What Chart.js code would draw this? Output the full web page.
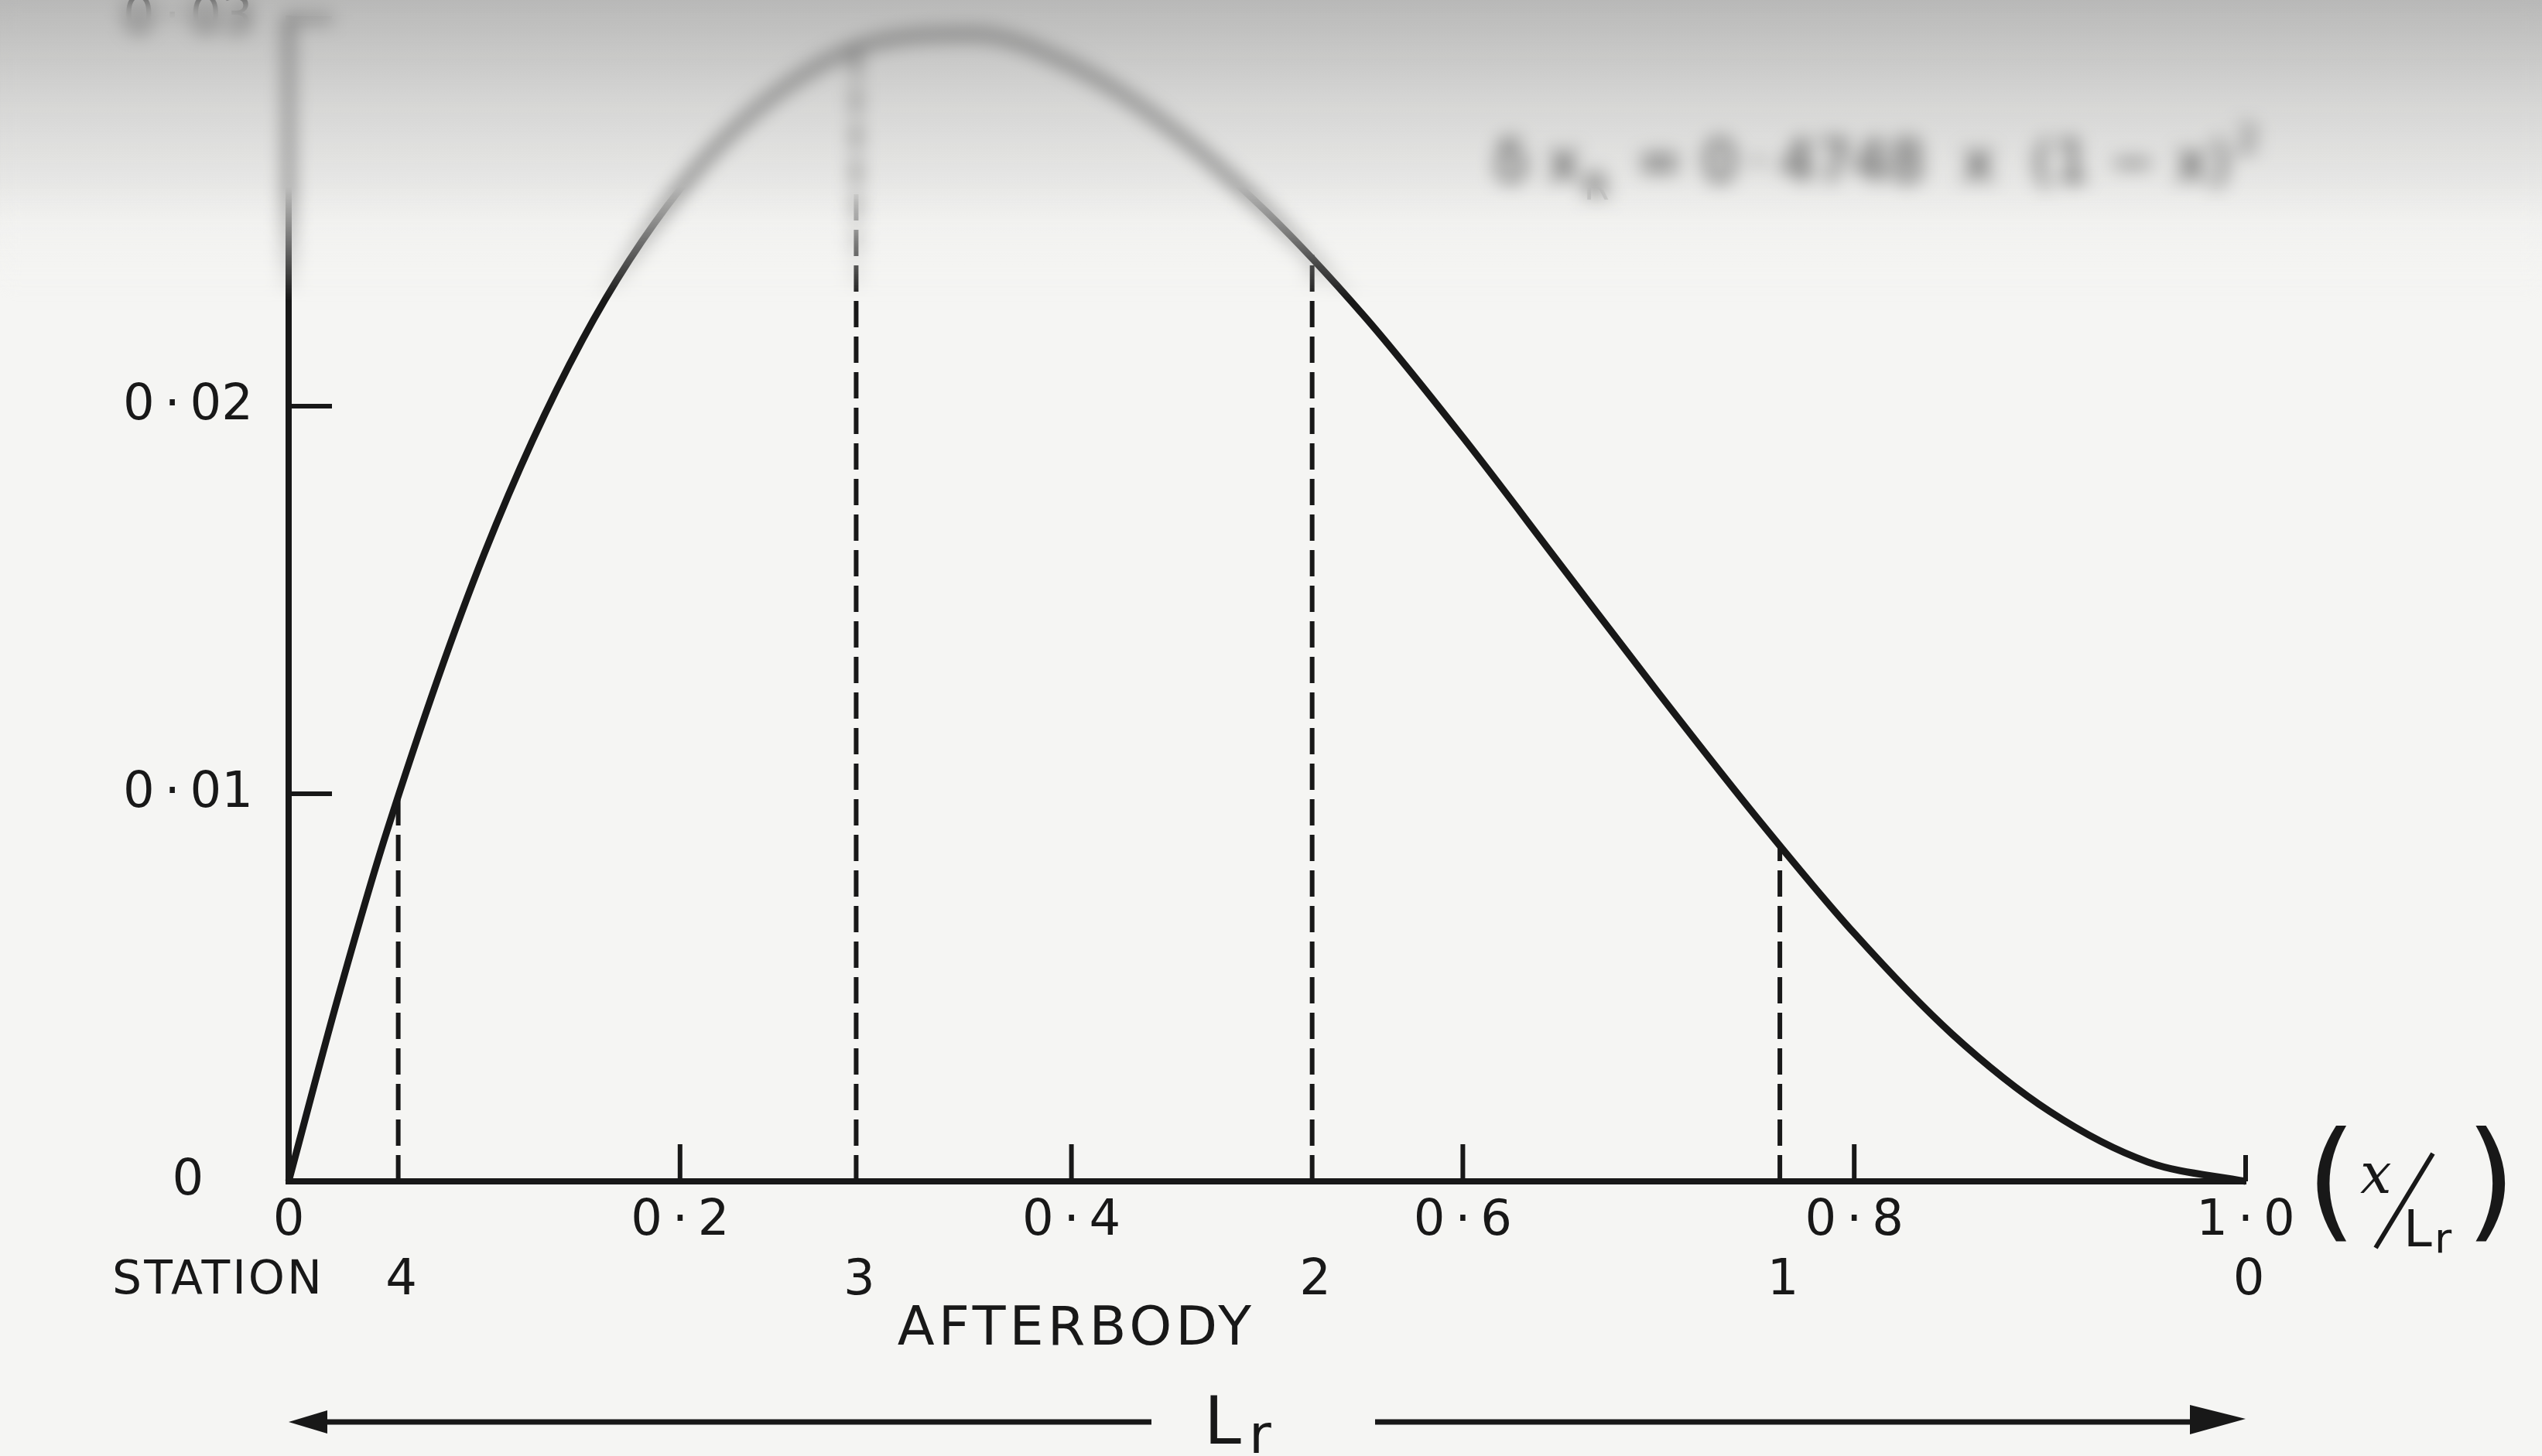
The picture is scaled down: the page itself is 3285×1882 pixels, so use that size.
<!DOCTYPE html>
<html>
<head>
<meta charset="utf-8">
<script src="https://cdn.jsdelivr.net/npm/chart.js@4.4.1/dist/chart.umd.min.js"></script>
<style>
  html, body { margin: 0; padding: 0; background: #f5f5f3; }
  #wrap { position: relative; width: 3285px; height: 1882px; }
  #haze {
    position: absolute; left: 0; top: 0; width: 3285px; height: 390px;
    pointer-events: none;
    backdrop-filter: blur(12px);
    background: linear-gradient(to bottom, rgba(135,135,135,0.55) 0%, rgba(165,165,165,0.38) 35%, rgba(215,215,215,0.15) 75%, rgba(255,255,255,0) 100%);
    -webkit-mask-image: linear-gradient(to bottom, #000 0%, #000 62%, transparent 100%);
    mask-image: linear-gradient(to bottom, #000 0%, #000 62%, transparent 100%);
  }
</style>
</head>
<body>
<div id="wrap">
  <canvas id="chart" width="3285" height="1882"></canvas>
  <div id="haze"></div>
</div>
<script>
// afterbody thickness distribution along x/Lr
const xValues = [0, 0.025, 0.05, 0.1, 0.15, 0.2, 0.25, 0.3, 0.35, 0.4, 0.45, 0.5,
                 0.55, 0.6, 0.65, 0.7, 0.75, 0.8, 0.85, 0.9, 0.95, 1.0];
const yValues = [0, 0.0047, 0.0090, 0.0162, 0.0217, 0.0256, 0.0281, 0.0294, 0.0296, 0.0288, 0.0272, 0.0250,
                 0.0223, 0.0192, 0.0159, 0.0126, 0.0094, 0.0064, 0.0038, 0.0018, 0.0005, 0];

// stations along the afterbody (dashed ordinates)
const stationLabels = ['4', '3', '2', '1', '0'];
const stationX = [0.056, 0.290, 0.523, 0.762, 1.0];
const stationTop = [0.0100, 0.0293, 0.0239, 0.0086, 0];

const xTicks = [0, 0.2, 0.4, 0.6, 0.8, 1.0];
const yTicks = [0, 0.01, 0.02, 0.03];

const INK = '#181818';
const FONT = "'DejaVu Sans', sans-serif";
const THIN = '\u2009';

function fmt(v, digits) {
  if (v === 0) return '0';
  return v.toFixed(digits).replace('.', THIN + '·' + THIN);
}

const curve = {
  data: xValues.map((x, i) => ({ x: x, y: yValues[i] })),
  borderColor: INK,
  borderWidth: 9,
  pointRadius: 0,
  cubicInterpolationMode: 'monotone',
  clip: false
};

const ordinates = stationX
  .map((x, i) => ({ x: x, top: stationTop[i] }))
  .filter(s => s.top > 0)
  .map(s => ({
    data: [{ x: s.x, y: 0 }, { x: s.x, y: s.top }],
    borderColor: INK,
    borderWidth: 6,
    borderDash: [34, 12],
    pointRadius: 0,
    clip: false
  }));

const extras = {
  id: 'extras',
  afterDraw(chart) {
    const ctx = chart.ctx;
    const xs = chart.scales.x;
    const ys = chart.scales.y;
    const area = chart.chartArea;
    ctx.save();
    ctx.strokeStyle = INK;
    ctx.fillStyle = INK;
    ctx.lineCap = 'butt';

    // inward tick marks
    ctx.lineWidth = 6;
    xTicks.forEach(v => {
      if (v === 0) return;
      const px = xs.getPixelForValue(v);
      ctx.beginPath();
      ctx.moveTo(px, area.bottom);
      ctx.lineTo(px, area.bottom - (v === 1 ? 34 : 48));
      ctx.stroke();
    });
    yTicks.forEach(v => {
      if (v === 0) return;
      const py = ys.getPixelForValue(v);
      ctx.beginPath();
      ctx.moveTo(area.left, py);
      ctx.lineTo(area.left + 56, py);
      ctx.stroke();
    });

    // station row
    ctx.textBaseline = 'middle';
    ctx.textAlign = 'center';
    ctx.font = '60px ' + FONT;
    ctx.letterSpacing = '3px';
    ctx.fillText('STATION', 282, 1656);
    ctx.font = '64px ' + FONT;
    ctx.letterSpacing = '0px';
    stationX.forEach((x, i) => {
      ctx.fillText(stationLabels[i], xs.getPixelForValue(x) + 4, 1656);
    });

    ctx.font = '70px ' + FONT;
    ctx.letterSpacing = '5px';
    ctx.fillText('AFTERBODY', 1391, 1720);
    ctx.letterSpacing = '0px';

    // overall length arrow
    const ax0 = xs.getPixelForValue(0);
    const ax1 = xs.getPixelForValue(1);
    const ay = 1838;
    ctx.lineWidth = 7;
    ctx.beginPath();
    ctx.moveTo(ax0 + 40, ay);
    ctx.lineTo(1488, ay);
    ctx.moveTo(1777, ay);
    ctx.lineTo(ax1 - 60, ay);
    ctx.stroke();
    ctx.beginPath();
    ctx.moveTo(ax0, ay);
    ctx.lineTo(ax0 + 50, ay - 15);
    ctx.lineTo(ax0 + 50, ay + 15);
    ctx.closePath();
    ctx.fill();
    ctx.beginPath();
    ctx.moveTo(ax1, ay - 4);
    ctx.lineTo(ax1 - 72, ay - 22);
    ctx.lineTo(ax1 - 72, ay + 16);
    ctx.closePath();
    ctx.fill();
    ctx.textAlign = 'left';
    ctx.textBaseline = 'alphabetic';
    ctx.font = '86px ' + FONT;
    ctx.fillText('L', 1556, 1866);
    ctx.font = '70px ' + FONT;
    ctx.fillText('r', 1614, 1878);

    // axis title (x/Lr)
    const tx = ax1;
    const by = area.bottom;
    ctx.font = '168px ' + FONT;
    ctx.textBaseline = 'middle';
    ctx.fillText('(', tx + 78, by + 12);
    ctx.fillText(')', tx + 284, by + 12);
    ctx.font = 'italic 72px ' + "'DejaVu Serif', serif";
    ctx.fillText('x', tx + 148, by - 4);
    ctx.lineWidth = 6;
    ctx.beginPath();
    ctx.moveTo(tx + 168, by + 86);
    ctx.lineTo(tx + 242, by - 36);
    ctx.stroke();
    ctx.font = '66px ' + FONT;
    ctx.textBaseline = 'alphabetic';
    ctx.fillText('L', tx + 204, by + 84);
    ctx.font = '54px ' + FONT;
    ctx.fillText('r', tx + 244, by + 92);

    // formula, top right
    let fx = 1930;
    const fy = 234;
    ctx.font = '74px ' + FONT;
    ctx.fillText('δ x', fx, fy);
    fx += ctx.measureText('δ x').width + 4;
    ctx.font = '48px ' + FONT;
    ctx.fillText('R', fx, fy + 24);
    fx += ctx.measureText('R').width + 10;
    ctx.font = '74px ' + FONT;
    const body = ' = 0' + THIN + '·' + THIN + '4748  x  (1 − x)';
    ctx.fillText(body, fx, fy);
    fx += ctx.measureText(body).width + 6;
    ctx.font = '48px ' + FONT;
    ctx.fillText('2', fx, fy - 38);

    ctx.restore();
  }
};

new Chart(document.getElementById('chart'), {
  type: 'line',
  data: { datasets: [curve, ...ordinates] },
  options: {
    responsive: false,
    animation: false,
    devicePixelRatio: 1,
    layout: { padding: { left: 0, right: 383, top: 24, bottom: 0 } },
    plugins: { legend: { display: false }, tooltip: { enabled: false } },
    scales: {
      x: {
        type: 'linear',
        min: 0,
        max: 1,
        afterBuildTicks: s => { s.ticks = xTicks.map(v => ({ value: v })); },
        afterFit: s => { s.height = 355; },
        grid: { display: false, drawTicks: false },
        border: { display: true, color: INK, width: 8 },
        ticks: {
          autoSkip: false,
          maxRotation: 0,
          padding: 14,
          color: INK,
          font: { family: FONT, size: 64 },
          callback: v => fmt(v, 1)
        }
      },
      y: {
        type: 'linear',
        min: 0,
        max: 0.03,
        afterBuildTicks: s => { s.ticks = yTicks.map(v => ({ value: v })); },
        afterFit: s => { s.width = 373; s.paddingTop = 0; s.paddingBottom = 0; },
        grid: { display: false, drawTicks: false },
        border: { display: true, color: INK, width: 8 },
        ticks: {
          autoSkip: false,
          crossAlign: 'center',
          padding: 46,
          color: INK,
          font: { family: FONT, size: 64 },
          callback: v => fmt(v, 2)
        }
      }
    }
  },
  plugins: [extras]
});
</script>
</body>
</html>
